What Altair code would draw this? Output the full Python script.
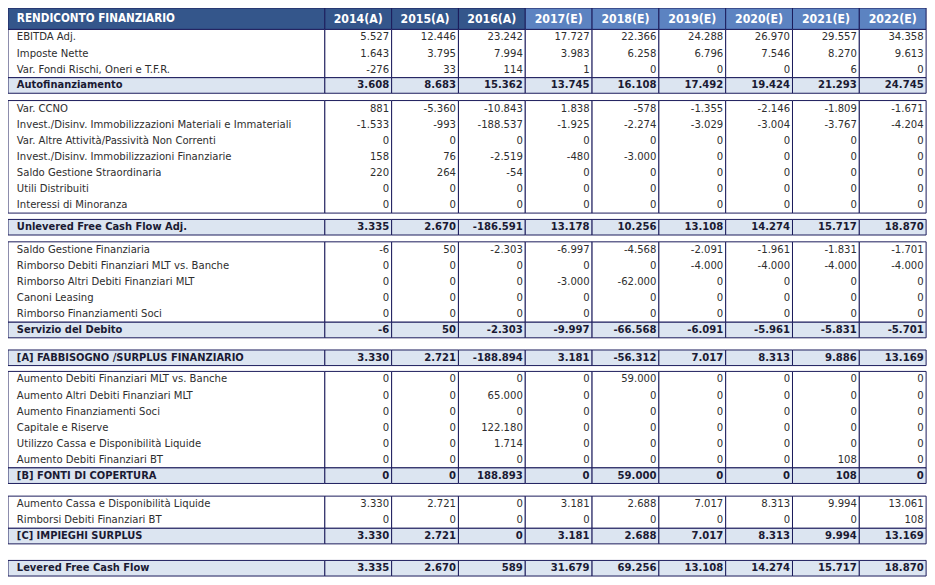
import altair as alt
import pandas as pd

# ---------------- data ----------------
years = ["2014(A)", "2015(A)", "2016(A)", "2017(E)", "2018(E)", "2019(E)", "2020(E)", "2021(E)", "2022(E)"]
title = "RENDICONTO FINANZIARIO"

sec1_labels = ["EBITDA Adj.", "Imposte Nette", "Var. Fondi Rischi, Oneri e T.F.R."]
sec1_values = [
    [5527, 12446, 23242, 17727, 22366, 24288, 26970, 29557, 34358],
    [1643, 3795, 7994, 3983, 6258, 6796, 7546, 8270, 9613],
    [-276, 33, 114, 1, 0, 0, 0, 6, 0],
]
autofin_label = "Autofinanziamento"
autofin_values = [3608, 8683, 15362, 13745, 16108, 17492, 19424, 21293, 24745]

sec2_labels = [
    "Var. CCNO",
    "Invest./Disinv. Immobilizzazioni Materiali e Immateriali",
    "Var. Altre Attività/Passività Non Correnti",
    "Invest./Disinv. Immobilizzazioni Finanziarie",
    "Saldo Gestione Straordinaria",
    "Utili Distribuiti",
    "Interessi di Minoranza",
]
sec2_values = [
    [881, -5360, -10843, 1838, -578, -1355, -2146, -1809, -1671],
    [-1533, -993, -188537, -1925, -2274, -3029, -3004, -3767, -4204],
    [0, 0, 0, 0, 0, 0, 0, 0, 0],
    [158, 76, -2519, -480, -3000, 0, 0, 0, 0],
    [220, 264, -54, 0, 0, 0, 0, 0, 0],
    [0, 0, 0, 0, 0, 0, 0, 0, 0],
    [0, 0, 0, 0, 0, 0, 0, 0, 0],
]
unlev_label = "Unlevered Free Cash Flow Adj."
unlev_values = [3335, 2670, -186591, 13178, 10256, 13108, 14274, 15717, 18870]

sec3_labels = [
    "Saldo Gestione Finanziaria",
    "Rimborso Debiti Finanziari MLT vs. Banche",
    "Rimborso Altri Debiti Finanziari MLT",
    "Canoni Leasing",
    "Rimborso Finanziamenti Soci",
]
sec3_values = [
    [-6, 50, -2303, -6997, -4568, -2091, -1961, -1831, -1701],
    [0, 0, 0, 0, 0, -4000, -4000, -4000, -4000],
    [0, 0, 0, -3000, -62000, 0, 0, 0, 0],
    [0, 0, 0, 0, 0, 0, 0, 0, 0],
    [0, 0, 0, 0, 0, 0, 0, 0, 0],
]
serv_label = "Servizio del Debito"
serv_values = [-6, 50, -2303, -9997, -66568, -6091, -5961, -5831, -5701]

a_label = "[A] FABBISOGNO /SURPLUS FINANZIARIO"
a_values = [3330, 2721, -188894, 3181, -56312, 7017, 8313, 9886, 13169]

sec4_labels = [
    "Aumento Debiti Finanziari MLT vs. Banche",
    "Aumento Altri Debiti Finanziari MLT",
    "Aumento Finanziamenti Soci",
    "Capitale e Riserve",
    "Utilizzo Cassa e Disponibilità Liquide",
    "Aumento Debiti Finanziari BT",
]
sec4_values = [
    [0, 0, 0, 0, 59000, 0, 0, 0, 0],
    [0, 0, 65000, 0, 0, 0, 0, 0, 0],
    [0, 0, 0, 0, 0, 0, 0, 0, 0],
    [0, 0, 122180, 0, 0, 0, 0, 0, 0],
    [0, 0, 1714, 0, 0, 0, 0, 0, 0],
    [0, 0, 0, 0, 0, 0, 0, 108, 0],
]
b_label = "[B] FONTI DI COPERTURA"
b_values = [0, 0, 188893, 0, 59000, 0, 0, 108, 0]

sec5_labels = ["Aumento Cassa e Disponibilità Liquide", "Rimborsi Debiti Finanziari BT"]
sec5_values = [
    [3330, 2721, 0, 3181, 2688, 7017, 8313, 9994, 13061],
    [0, 0, 0, 0, 0, 0, 0, 0, 108],
]
c_label = "[C] IMPIEGHI SURPLUS"
c_values = [3330, 2721, 0, 3181, 2688, 7017, 8313, 9994, 13169]

lev_label = "Levered Free Cash Flow"
lev_values = [3335, 2670, 589, 31679, 69256, 13108, 14274, 15717, 18870]

# ---------------- layout (style only) ----------------
LABEL_W = 322
COL_W = 67.9
HEADER_H = 22
ROW_H = 16.5
TOT_H = 16
# blocks: (item labels, item values, total label, total values, gap before)
blocks = [
    (sec1_labels, sec1_values, autofin_label, autofin_values, 0),
    (sec2_labels, sec2_values, None, None, 7.5),
    ([], [], unlev_label, unlev_values, 6.5),
    (sec3_labels, sec3_values, serv_label, serv_values, 7),
    ([], [], a_label, a_values, 12.5),
    (sec4_labels, sec4_values, b_label, b_values, 6),
    (sec5_labels, sec5_values, c_label, c_values, 13),
    ([], [], lev_label, lev_values, 17),
]

DARK = "#34568B"
LIGHT = "#5C83C1"
TOTAL_FILL = "#DCE5F1"
NAVY = "#1C1C5C"

col_edges = [0, LABEL_W] + [LABEL_W + COL_W * (i + 1) for i in range(len(years))]


def fmt(v):
    return f"{v:,}".replace(",", ".")


rects = []
texts = []

# header
for c in range(len(years) + 1):
    fill = DARK if c <= 3 else LIGHT
    rects.append(dict(x0=col_edges[c], x1=col_edges[c + 1], y0=0, y1=HEADER_H, fill=fill))
texts.append(dict(x=9, y=HEADER_H / 2, t=title, kind="hleft"))
for i, yr in enumerate(years):
    texts.append(dict(x=(col_edges[i + 1] + col_edges[i + 2]) / 2, y=HEADER_H / 2, t=yr, kind="hcenter"))

y = HEADER_H
for labels, values, tl, tv, gap in blocks:
    y += gap
    if labels:
        top = y
        for lab, vals in zip(labels, values):
            cy = y + ROW_H / 2
            texts.append(dict(x=9, y=cy, t=lab, kind="label"))
            for i, v in enumerate(vals):
                texts.append(dict(x=col_edges[i + 2] - 2.5, y=cy, t=fmt(v), kind="value"))
            y += ROW_H
        for c in range(len(years) + 1):
            rects.append(dict(x0=col_edges[c], x1=col_edges[c + 1], y0=top, y1=y, fill="#FFFFFF"))
    if tl:
        cy = y + TOT_H / 2
        for c in range(len(years) + 1):
            rects.append(dict(x0=col_edges[c], x1=col_edges[c + 1], y0=y, y1=y + TOT_H, fill=TOTAL_FILL))
        texts.append(dict(x=9, y=cy, t=tl, kind="blabel"))
        for i, v in enumerate(tv):
            texts.append(dict(x=col_edges[i + 2] - 2.5, y=cy, t=fmt(v), kind="bvalue"))
        y += TOT_H

rect_df = pd.DataFrame(rects)
text_df = pd.DataFrame(texts)

XS = alt.Scale(domain=[0, 934], nice=False, zero=False)
YS = alt.Scale(domain=[0, 584], nice=False, zero=False, reverse=True)
FONT = "DejaVu Sans Condensed, DejaVu Sans"
FS = 11.2

base_rect = alt.Chart(rect_df).mark_rect(stroke=NAVY, strokeWidth=1).encode(
    x=alt.X("x0:Q", scale=XS, axis=None),
    x2="x1:Q",
    y=alt.Y("y0:Q", scale=YS, axis=None),
    y2="y1:Q",
    color=alt.Color("fill:N", scale=None),
)


def text_layer(kind, align, weight, color, size=FS):
    return alt.Chart(text_df).transform_filter(alt.datum.kind == kind).mark_text(
        align=align, baseline="middle", font=FONT, fontSize=size, fontWeight=weight, color=color
    ).encode(
        x=alt.X("x:Q", scale=XS, axis=None),
        y=alt.Y("y:Q", scale=YS, axis=None),
        text="t:N",
    )


chart = alt.layer(
    base_rect,
    text_layer("hleft", "left", "bold", "#FFFFFF", 11.6),
    text_layer("hcenter", "center", "bold", "#FFFFFF", 12.2),
    text_layer("label", "left", "normal", "#2E2E2E"),
    text_layer("value", "right", "normal", "#2E2E2E"),
    text_layer("blabel", "left", "bold", "#1A1A33", 11),
    text_layer("bvalue", "right", "bold", "#1A1A33", 11.2),
).properties(
    width=919, height=569, padding=0, autosize=alt.AutoSizeParams(type="none"), background="#FFFFFF"
).configure_view(stroke=None)

chart.save("out.html", embed_options={"renderer": "svg", "actions": False})
